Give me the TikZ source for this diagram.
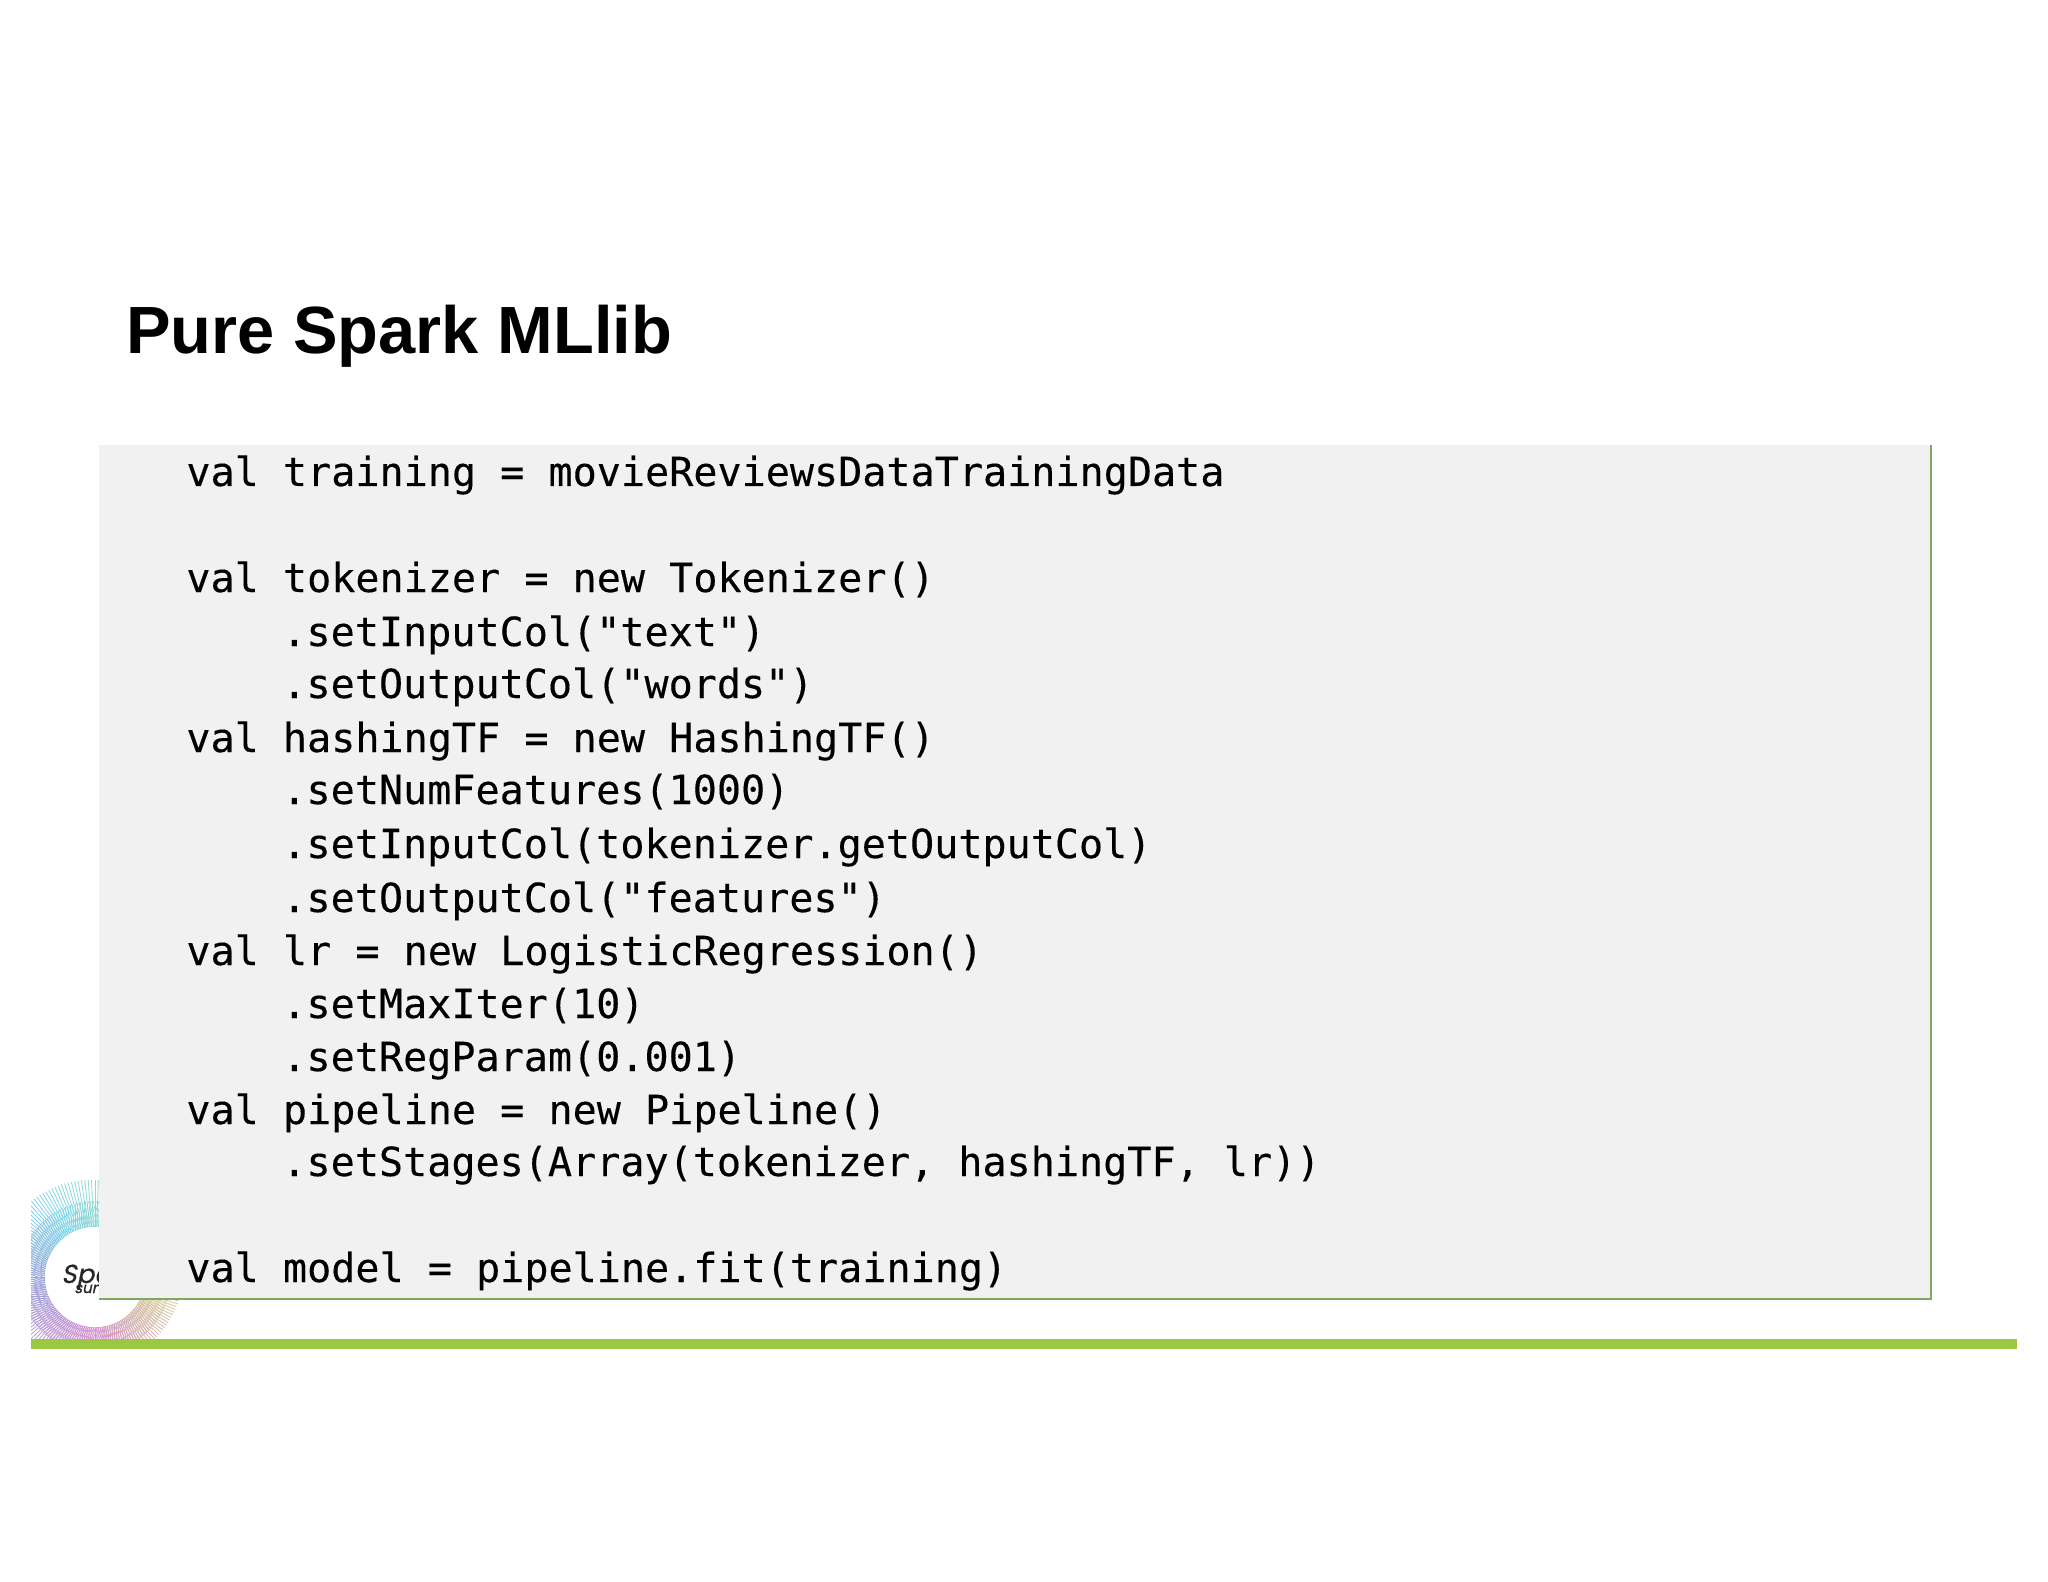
\documentclass[tikz,border=0pt]{standalone}
\usepackage{fontspec}
\setmainfont{Liberation Sans}
\newfontfamily\codefont[FakeBold=0.25]{DejaVu Sans Mono}
\newfontfamily\logofont[FakeSlant=0.2,FakeBold=0.6]{Poppins}
\definecolor{panelgray}{HTML}{F1F1F1}
\definecolor{panelgreen}{HTML}{82A860}
\definecolor{bargreen}{HTML}{9CC743}
\definecolor{rayA}{HTML}{7FD8E8}
\definecolor{rayB}{HTML}{9AA8DC}
\definecolor{rayC}{HTML}{D48FD0}
\definecolor{rayD}{HTML}{D6D88E}
\definecolor{rayE}{HTML}{A0D8C0}
\tikzset{
  codeline/.style={anchor=base west,inner sep=0pt,font=\codefont\fontsize{20.05}{24}\selectfont,text=black},
  titletext/.style={anchor=base west,inner sep=0pt,font=\bfseries\fontsize{33.4}{40}\selectfont,text=black},
  ray/.style={line width=0.4pt}
}
\begin{document}
\begin{tikzpicture}[x=0.5pt,y=-0.5pt]
\useasboundingbox (0,0) rectangle (2048,1582);
\fill[white] (0,0) rectangle (2048,1582);
% logo rays
\begin{scope}
\clip (31,1170) rectangle (200,1339);
\foreach \a in {0,2,...,358}{
  \pgfmathsetmacro{\t}{\a}
  \ifdim\t pt<90pt
    \pgfmathsetmacro{\p}{\t/90*100}
    \colorlet{rc}{rayC!\p!rayD}
  \else\ifdim\t pt<180pt
    \pgfmathsetmacro{\p}{(\t-90)/90*100}
    \colorlet{rc}{rayB!\p!rayC}
  \else\ifdim\t pt<240pt
    \pgfmathsetmacro{\p}{(\t-180)/60*100}
    \colorlet{rc}{rayA!\p!rayB}
  \else\ifdim\t pt<300pt
    \pgfmathsetmacro{\p}{(\t-240)/60*100}
    \colorlet{rc}{rayE!\p!rayA}
  \else
    \pgfmathsetmacro{\p}{(\t-300)/60*100}
    \colorlet{rc}{rayD!\p!rayE}
  \fi\fi\fi\fi
  \pgfmathsetmacro{\ro}{92.5-6.5*cos(\a-45)}
  \draw[ray,rc] ({95+50*cos(\a)},{1277+50*sin(\a)}) -- ({95+\ro*cos(\a)},{1277+\ro*sin(\a)});
  \draw[ray,rc] ({95+50*cos(\a+1)},{1277+50*sin(\a+1)}) -- ({95+76*cos(\a+9)},{1277+76*sin(\a+9)});
}
\end{scope}
\fill[white] (95,1277) circle [radius=50];
\node[anchor=base west,inner sep=0pt,font=\logofont\fontsize{13}{14}\selectfont,text=black!85] (logoA) at (61,1283) {Spa};
\node[anchor=base west,inner sep=0pt,font=\logofont\fontsize{7.5}{9}\selectfont,text=black!85] (logoB) at (74,1293) {sum};
% panel
\fill[panelgray] (99,445) rectangle (1931,1299);
\draw[panelgreen,line width=1.1pt] (1931,445) -- (1931,1299) -- (99,1299);
% bar
\fill[bargreen] (31,1339) rectangle (2017,1349);
% title
\node[titletext] (title) at (126,354) {Pure Spark MLlib};
% code
\node[codeline] (l1) at (186,486) {val training = movieReviewsDataTrainingData};
\node[codeline] (l3) at (186,592) {val tokenizer = new Tokenizer()};
\node[codeline] (l4) at (282,646) {.setInputCol("text")};
\node[codeline] (l5) at (282,698) {.setOutputCol("words")};
\node[codeline] (l6) at (186,752) {val hashingTF = new HashingTF()};
\node[codeline] (l7) at (282,804) {.setNumFeatures(1000)};
\node[codeline] (l8) at (282,858) {.setInputCol(tokenizer.getOutputCol)};
\node[codeline] (l9) at (282,912) {.setOutputCol("features")};
\node[codeline] (l10) at (186,965) {val lr = new LogisticRegression()};
\node[codeline] (l11) at (282,1018) {.setMaxIter(10)};
\node[codeline] (l12) at (282,1071) {.setRegParam(0.001)};
\node[codeline] (l13) at (186,1124) {val pipeline = new Pipeline()};
\node[codeline] (l14) at (282,1176) {.setStages(Array(tokenizer, hashingTF, lr))};
\node[codeline] (l16) at (186,1282) {val model = pipeline.fit(training)};
\end{tikzpicture}
\end{document}
